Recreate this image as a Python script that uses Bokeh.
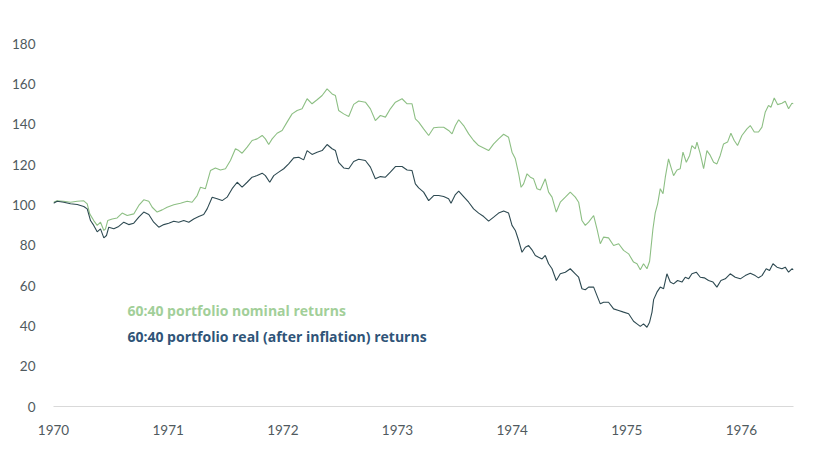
from bokeh.plotting import figure
from bokeh.models import Range1d, FixedTicker, Label
from bokeh.embed import file_html
from bokeh.resources import INLINE

# ---- data ----
nominal_years = [
    1970.000, 1970.032, 1970.087, 1970.148, 1970.207, 1970.264, 1970.294, 1970.316, 1970.351, 1970.381,
    1970.410, 1970.439, 1970.453, 1970.473, 1970.512, 1970.555, 1970.599, 1970.643, 1970.700, 1970.744,
    1970.787, 1970.831, 1970.861, 1970.904, 1970.948, 1970.991, 1971.049, 1971.107, 1971.166, 1971.209,
    1971.253, 1971.282, 1971.325, 1971.369, 1971.412, 1971.456, 1971.500, 1971.543, 1971.587, 1971.616,
    1971.645, 1971.689, 1971.732, 1971.776, 1971.820, 1971.848, 1971.877, 1971.907, 1971.950, 1971.994,
    1972.037, 1972.081, 1972.125, 1972.168, 1972.212, 1972.255, 1972.299, 1972.343, 1972.386, 1972.430,
    1972.459, 1972.487, 1972.531, 1972.575, 1972.618, 1972.662, 1972.720, 1972.764, 1972.807, 1972.851,
    1972.895, 1972.938, 1972.982, 1973.040, 1973.084, 1973.127, 1973.156, 1973.185, 1973.228, 1973.272,
    1973.316, 1973.359, 1973.403, 1973.446, 1973.476, 1973.505, 1973.534, 1973.577, 1973.621, 1973.664,
    1973.708, 1973.752, 1973.795, 1973.839, 1973.882, 1973.926, 1973.969, 1973.999, 1974.028, 1974.057,
    1974.078, 1974.100, 1974.130, 1974.159, 1974.187, 1974.217, 1974.246, 1974.289, 1974.318, 1974.348,
    1974.385, 1974.420, 1974.464, 1974.507, 1974.551, 1974.580, 1974.609, 1974.638, 1974.667, 1974.711,
    1974.740, 1974.769, 1974.798, 1974.841, 1974.885, 1974.929, 1974.972, 1975.016, 1975.059, 1975.089,
    1975.118, 1975.146, 1975.176, 1975.199, 1975.228, 1975.248, 1975.269, 1975.292, 1975.316, 1975.336,
    1975.364, 1975.385, 1975.408, 1975.438, 1975.466, 1975.490, 1975.519, 1975.548, 1975.568, 1975.597,
    1975.612, 1975.641, 1975.670, 1975.699, 1975.728, 1975.757, 1975.786, 1975.815, 1975.844, 1975.879,
    1975.908, 1975.937, 1975.966, 1976.004, 1976.048, 1976.077, 1976.112, 1976.149, 1976.179, 1976.207,
    1976.236, 1976.257, 1976.286, 1976.315, 1976.353, 1976.382, 1976.411, 1976.440, 1976.454,
]
nominal = [
    101.3, 102.0, 101.8, 101.3, 101.8, 102.0, 100.5, 95.5, 92.2, 89.8,
    91.4, 87.3, 88.0, 92.2, 93.0, 93.5, 95.9, 94.7, 95.5, 99.7,
    102.5, 101.8, 98.8, 96.4, 97.5, 98.8, 100.0, 100.8, 101.8, 101.3,
    104.6, 108.7, 108.0, 117.0, 118.3, 117.3, 117.9, 122.0, 127.8, 126.9,
    125.6, 128.6, 131.9, 132.7, 134.4, 132.7, 129.9, 132.7, 135.5, 136.9,
    141.0, 145.1, 146.8, 147.6, 152.6, 150.1, 152.1, 154.2, 157.5, 155.0,
    154.2, 146.8, 145.1, 143.8, 149.8, 151.5, 150.9, 147.6, 141.8, 144.3,
    143.5, 147.6, 150.9, 152.6, 150.1, 150.1, 142.6, 141.0, 137.7, 134.4,
    138.2, 138.5, 138.5, 136.9, 135.2, 139.3, 142.2, 139.3, 135.2, 131.9,
    129.4, 128.2, 126.9, 130.2, 132.7, 135.0, 133.5, 126.1, 122.8, 115.4,
    108.7, 110.4, 115.4, 113.7, 112.9, 108.0, 107.4, 112.9, 106.3, 103.8,
    96.4, 101.3, 103.8, 106.3, 103.8, 101.3, 92.2, 89.8, 91.4, 94.7,
    88.1, 80.7, 84.0, 83.6, 79.8, 80.7, 77.4, 75.7, 71.6, 70.8,
    67.8, 70.8, 68.3, 72.0, 88.0, 96.0, 100.5, 108.0, 105.5, 113.7,
    122.8, 118.7, 114.5, 117.3, 117.9, 126.1, 121.1, 124.5, 129.4, 127.8,
    131.1, 125.3, 117.9, 126.9, 124.5, 121.1, 120.3, 124.5, 130.2, 131.1,
    135.5, 131.9, 129.4, 134.4, 137.7, 139.3, 136.1, 136.1, 138.5, 145.9,
    149.3, 148.4, 153.0, 149.7, 150.4, 151.4, 147.6, 150.4, 150.1,
]

real_years = [
    1970.000, 1970.032, 1970.090, 1970.148, 1970.207, 1970.264, 1970.294, 1970.323, 1970.351, 1970.381,
    1970.410, 1970.439, 1970.462, 1970.482, 1970.526, 1970.569, 1970.613, 1970.656, 1970.700, 1970.744,
    1970.787, 1970.831, 1970.874, 1970.918, 1970.962, 1971.005, 1971.049, 1971.092, 1971.136, 1971.180,
    1971.223, 1971.267, 1971.310, 1971.340, 1971.384, 1971.427, 1971.471, 1971.514, 1971.558, 1971.602,
    1971.645, 1971.689, 1971.732, 1971.776, 1971.820, 1971.848, 1971.886, 1971.921, 1971.964, 1972.008,
    1972.051, 1972.095, 1972.139, 1972.182, 1972.212, 1972.255, 1972.299, 1972.343, 1972.386, 1972.430,
    1972.459, 1972.487, 1972.531, 1972.575, 1972.618, 1972.662, 1972.720, 1972.764, 1972.807, 1972.851,
    1972.895, 1972.938, 1972.982, 1973.040, 1973.084, 1973.127, 1973.156, 1973.185, 1973.228, 1973.272,
    1973.316, 1973.359, 1973.403, 1973.446, 1973.467, 1973.505, 1973.534, 1973.577, 1973.621, 1973.664,
    1973.708, 1973.752, 1973.795, 1973.839, 1973.882, 1973.926, 1973.969, 1973.999, 1974.028, 1974.057,
    1974.086, 1974.115, 1974.144, 1974.173, 1974.202, 1974.231, 1974.261, 1974.289, 1974.318, 1974.348,
    1974.385, 1974.420, 1974.464, 1974.507, 1974.551, 1974.580, 1974.609, 1974.638, 1974.667, 1974.711,
    1974.740, 1974.769, 1974.798, 1974.841, 1974.885, 1974.929, 1974.972, 1975.016, 1975.059, 1975.089,
    1975.118, 1975.146, 1975.176, 1975.199, 1975.220, 1975.234, 1975.263, 1975.292, 1975.321, 1975.350,
    1975.379, 1975.408, 1975.443, 1975.481, 1975.510, 1975.539, 1975.568, 1975.606, 1975.641, 1975.676,
    1975.713, 1975.752, 1975.786, 1975.821, 1975.859, 1975.902, 1975.946, 1975.990, 1976.033, 1976.077,
    1976.120, 1976.149, 1976.179, 1976.216, 1976.245, 1976.275, 1976.310, 1976.353, 1976.382, 1976.411,
    1976.440, 1976.454,
]
real = [
    100.8, 101.8, 101.3, 100.5, 100.2, 99.2, 98.0, 92.2, 89.8, 86.6,
    88.1, 83.6, 84.8, 88.9, 88.1, 89.3, 91.4, 90.2, 90.9, 93.9,
    96.4, 95.2, 91.4, 88.9, 90.2, 90.9, 91.9, 91.4, 92.2, 91.4,
    93.0, 94.2, 95.2, 98.0, 103.8, 103.0, 102.1, 103.8, 108.0, 111.2,
    108.8, 111.2, 113.7, 114.5, 115.7, 114.5, 111.2, 114.5, 116.2, 117.9,
    120.3, 123.3, 123.6, 122.3, 126.9, 125.0, 126.1, 126.9, 129.9, 127.8,
    126.9, 121.1, 118.3, 117.9, 121.5, 122.6, 122.0, 118.7, 112.9, 114.0,
    113.7, 116.2, 119.0, 119.0, 117.3, 117.0, 110.4, 108.4, 106.3, 102.1,
    104.6, 104.6, 104.1, 103.0, 100.8, 105.1, 106.8, 104.1, 101.3, 98.0,
    95.9, 94.2, 91.9, 93.9, 95.9, 97.0, 95.9, 89.8, 87.3, 82.3,
    76.5, 79.0, 79.8, 77.7, 74.9, 74.0, 73.2, 74.9, 70.8, 68.3,
    62.5, 65.8, 66.6, 68.3, 65.8, 64.1, 58.4, 57.9, 59.2, 59.2,
    55.0, 50.9, 51.7, 51.7, 48.4, 47.6, 46.8, 46.0, 42.3, 41.0,
    39.7, 41.0, 39.3, 41.8, 46.8, 53.0, 56.7, 59.2, 58.4, 65.8,
    61.7, 60.8, 62.5, 61.7, 64.1, 63.3, 65.8, 66.6, 64.1, 63.8,
    62.5, 61.7, 59.2, 62.5, 63.3, 65.8, 64.1, 63.3, 64.9, 66.1,
    64.9, 63.8, 64.9, 68.3, 67.4, 70.8, 69.1, 68.3, 69.1, 66.6,
    68.3, 67.8,
]

year_ticks = [1970, 1971, 1972, 1973, 1974, 1975, 1976]
value_ticks = [0, 20, 40, 60, 80, 100, 120, 140, 160, 180]
series_names = ["60:40 portfolio nominal returns",
                "60:40 portfolio real (after inflation) returns"]

GREEN_LINE = "#8dbf84"
GREEN_TEXT = "#a2cf99"
DARK_LINE = "#2e4a52"
DARK_TEXT = "#2f5478"
FONT = "Lato"
LEGEND_FONT = "Open Sans"

p = figure(width=811, height=438, output_backend="svg", toolbar_location=None,
           x_range=Range1d(1970, 1976.454), y_range=Range1d(0, 180),
           min_border_left=53, min_border_right=18, min_border_top=43,
           min_border_bottom=32)

p.line(nominal_years, nominal, line_color=GREEN_LINE, line_width=1.1)
p.line(real_years, real, line_color=DARK_LINE, line_width=1.1)

p.grid.visible = False
p.outline_line_color = None
p.background_fill_color = "white"
p.border_fill_color = "white"

p.xaxis.ticker = FixedTicker(ticks=year_ticks)
p.yaxis.ticker = FixedTicker(ticks=value_ticks)
for ax in (p.xaxis, p.yaxis):
    ax.major_tick_line_color = None
    ax.minor_tick_line_color = None
    ax.major_label_text_font = FONT
    ax.major_label_text_font_size = "13.5px"
    ax.major_label_text_color = "#505a5e"
    ax.major_label_standoff = 12
p.xaxis.axis_line_color = "#d9d9d9"
p.xaxis.axis_line_width = 1
p.yaxis.axis_line_color = None
p.xaxis.major_label_standoff = 12

p.add_layout(Label(x=1970.645, y=47.6, text=series_names[0], text_color=GREEN_TEXT,
                   text_font=LEGEND_FONT, text_font_size="14px", text_font_style="bold",
                   text_baseline="middle"))
p.add_layout(Label(x=1970.645, y=34.7, text=series_names[1], text_color=DARK_TEXT,
                   text_font=LEGEND_FONT, text_font_size="14px", text_font_style="bold",
                   text_baseline="middle"))

open("out.html", "w").write(file_html(p, INLINE))
